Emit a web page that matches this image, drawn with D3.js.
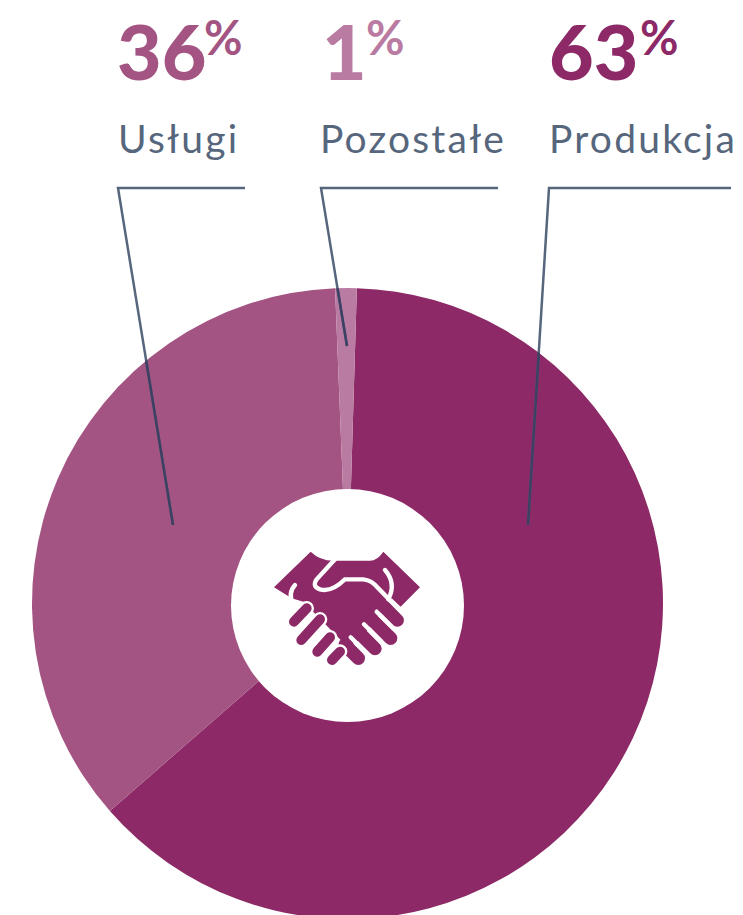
<!DOCTYPE html>
<html>
<head>
<meta charset="utf-8">
<script src="https://cdn.jsdelivr.net/npm/d3@7"></script>
<style>
    html, body { margin: 0; background: #fff; }
    svg { display: block; }
    text { font-family: Lato, sans-serif; }
</style>
</head>
<body>
<svg id="chart" width="743" height="915"></svg>
<script>
var categories = ["Produkcja", "Usługi", "Pozostałe"];
var shares = [63.1, 35.8, 1.1];
var colors = ["#8c2966", "#a35482", "#b97ba1"];

// layout, in the same order as the categories
var labelX = [549, 118, 320];
var numberX = [549, 117, 322];
var percentX = [640, 204, 366];
var leaderX = [549, 118, 321];
var leaderEnd = [[528, 525], [173, 525], [347, 346]];
var leaderRight = [731, 245, 498];

var width = 743, height = 915;
var cx = 347.5, cy = 603.5, outerR = 315.5, innerR = 116.5;
var startDeg = 1.7;
var lineTop = 188;

var svg = d3.select("#chart");

// pie
var pie = d3.pie()
    .sort(null)
    .startAngle(startDeg * Math.PI / 180)
    .endAngle((startDeg + 360) * Math.PI / 180);
var arc = d3.arc().innerRadius(0).outerRadius(outerR);

var rows = categories.map(function (c, i) {
    return { name: c, share: shares[i], color: colors[i], i: i };
});

var pieG = svg.append("g").attr("transform", "translate(" + cx + "," + cy + ")");
pieG.selectAll("path")
    .data(pie.value(function (d) { return d.share; })(rows))
    .enter()
    .append("path")
    .attr("d", arc)
    .attr("fill", function (d) { return d.data.color; });

svg.append("circle")
    .attr("cx", cx)
    .attr("cy", cy + 2)
    .attr("r", innerR)
    .attr("fill", "#fff");

// handshake icon, drawn on the 3x crop grid
var icon = svg.append("g").attr("transform", "translate(260,530) scale(0.3333)");
var purple = colors[0];

function strokes(cls, list, color, w) {
    icon.selectAll("path." + cls)
        .data(list)
        .enter()
        .append("path")
        .attr("class", cls)
        .attr("d", function (d) { return d; })
        .attr("fill", "none")
        .attr("stroke", color)
        .attr("stroke-width", w)
        .attr("stroke-linecap", "round");
}

icon.append("path")
    .attr("fill", purple)
    .attr("d", "M42,172 L152,65 Q180,92 220,92 L330,92 Q352,92 370,65 L480,172 L422,230 L395,205 L360,250 L300,330 L262,350 L130,215 L95,205 Z");

// right hand fingers, the gaps between them come from the spacing
strokes("rf", ["M365,223 L412,270", "M330,263 L392,325", "M295,306 L345,356", "M255,345 L295,385"], purple, 40);

// white hand outline
strokes("cut", [
    "M225,88 L170,148 Q155,170 180,178 Q215,188 255,148 L310,148 Q335,150 355,175 L438,260",
    "M375,120 Q410,160 385,208",
    "M105,165 Q82,190 100,225",
    "M350,245 L400,295",
    "M312,283 L362,333",
    "M272,322 L318,368"
], "#fff", 13);

// left hand fingers
var leftFingers = ["M102,275 L140,235", "M124,330 L180,268", "M172,365 L210,322", "M216,390 L240,365"];
strokes("lw", leftFingers, "#fff", 44);
strokes("lf", leftFingers, purple, 30);

// leader lines
var leaders = svg.append("g").attr("fill", "none").attr("stroke-width", 2.5);
rows.forEach(function (r) {
    var pts = [[leaderRight[r.i], lineTop], [leaderX[r.i], lineTop], leaderEnd[r.i]];
    leaders.append("path")
        .attr("d", d3.line()(pts))
        .attr("stroke", "#56667c");
});

svg.append("clipPath").attr("id", "pieClip")
    .append("circle").attr("cx", cx).attr("cy", cy).attr("r", outerR);
var dark = svg.append("g")
    .attr("clip-path", "url(#pieClip)")
    .attr("fill", "none")
    .attr("stroke-width", 2.5);
rows.forEach(function (r) {
    dark.append("path")
        .attr("d", d3.line()([[leaderX[r.i], lineTop], leaderEnd[r.i]]))
        .attr("stroke", "#3d3f63");
});

// labels
var labels = svg.selectAll("g.label")
    .data(rows)
    .enter()
    .append("g")
    .attr("class", "label");

labels.append("text")
    .attr("x", function (d) { return numberX[d.i]; })
    .attr("y", 80)
    .attr("font-size", 77)
    .attr("font-weight", 900)
    .attr("fill", function (d) { return d.color; })
    .text(function (d) { return Math.round(d.share); });

labels.append("text")
    .attr("x", function (d) { return percentX[d.i]; })
    .attr("y", 55)
    .attr("font-size", 47)
    .attr("font-weight", 700)
    .attr("fill", function (d) { return d.color; })
    .text("%");

labels.append("text")
    .attr("x", function (d) { return labelX[d.i]; })
    .attr("y", 153)
    .attr("font-size", 39)
    .attr("font-weight", 400)
    .attr("letter-spacing", 2.2)
    .attr("fill", "#56667c")
    .text(function (d) { return d.name; });
</script>
</body>
</html>
